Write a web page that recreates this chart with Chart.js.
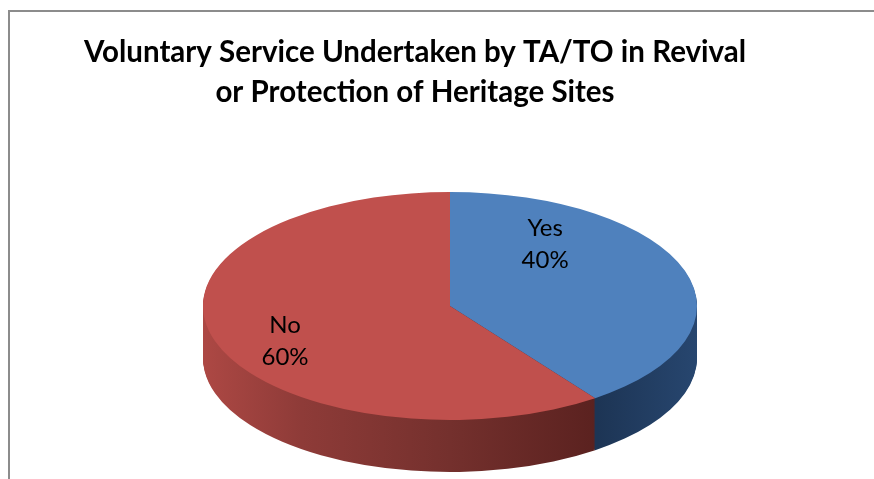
<!DOCTYPE html>
<html>
<head>
<meta charset="utf-8">
<title>Voluntary Service Undertaken by TA/TO</title>
<script src="https://cdn.jsdelivr.net/npm/chart.js@4.4.1/dist/chart.umd.min.js"></script>
<style>
  html, body { margin: 0; padding: 0; background: #fff; overflow: hidden; }
  #wrap { width: 874px; height: 479px; }
</style>
</head>
<body>
<div id="wrap"><canvas id="pie" width="874" height="479"></canvas></div>
<script>
// survey answers
const answers = ['Yes', 'No'];
const shares = [40, 60];
const titleLines = ['Voluntary Service Undertaken by TA/TO in Revival', 'or Protection of Heritage Sites'];

// top face colours, then the darker rim colours (left -> right shading)
const faceColors = ['#4f81bd', '#c0504d'];
const rimStops = [
  [[0.80, '#1d3555'], [1, '#27466f']],
  [[0, '#ad4844'], [0.2, '#8e3b38'], [0.5, '#74302d'], [0.85, '#561f1d']]
];

// how the flat pie is laid onto the page: tilted ellipse with a rim
const tilt = { cx: 450, cy: 306, rx: 247, ry: 114, depth: 52 };
// label anchors, as fractions of the ellipse radii from its centre
const labelSpots = [[0.385, -0.54], [-0.668, 0.31]];

function placeArc(ctx, arc, dy) {
  const R = arc.outerRadius;
  ctx.translate(tilt.cx, tilt.cy + dy);
  ctx.scale(tilt.rx / R, tilt.ry / R);
  ctx.translate(-arc.x, -arc.y);
}

function paintArc(ctx, arc, fill) {
  const shadow = Object.create(arc);
  shadow.options = Object.assign({}, arc.options, { backgroundColor: fill, borderWidth: 0 });
  arc.draw.call(shadow, ctx);
}

const tiltedPie = {
  id: 'tiltedPie',
  beforeDraw(chart) {
    const ctx = chart.ctx;
    ctx.save();
    ctx.fillStyle = '#ffffff';
    ctx.fillRect(0, 0, chart.width, chart.height);
    // frame of the chart box
    ctx.fillStyle = '#8c8c8c';
    ctx.fillRect(8, 10, chart.width - 8, 2);
    ctx.fillRect(8, 10, 2, chart.height - 10);
    ctx.restore();
  },
  beforeDatasetsDraw(chart) {
    const ctx = chart.ctx;
    const arcs = chart.getDatasetMeta(0).data;

    // rim: stack of shifted copies, bottom first
    for (let d = tilt.depth; d >= 1; d--) {
      arcs.forEach(function(arc, i) {
        ctx.save();
        placeArc(ctx, arc, d);
        const R = arc.outerRadius;
        const g = ctx.createLinearGradient(arc.x - R, 0, arc.x + R, 0);
        rimStops[i].forEach(function(s) { g.addColorStop(s[0], s[1]); });
        paintArc(ctx, arc, g);
        ctx.restore();
      });
    }

    // top face
    arcs.forEach(function(arc, i) {
      ctx.save();
      placeArc(ctx, arc, 0);
      paintArc(ctx, arc, faceColors[i]);
      ctx.restore();
    });

    // labels: category and percentage
    ctx.save();
    ctx.fillStyle = '#000000';
    ctx.font = '24px Lato, "Open Sans", sans-serif';
    ctx.textAlign = 'center';
    ctx.textBaseline = 'middle';
    arcs.forEach(function(arc, i) {
      const x = tilt.cx + labelSpots[i][0] * tilt.rx;
      const y = tilt.cy + labelSpots[i][1] * tilt.ry;
      ctx.fillText(answers[i], x, y - 16);
      ctx.fillText(shares[i] + '%', x, y + 16);
    });
    ctx.restore();
    return false;
  }
};

new Chart(document.getElementById('pie'), {
  type: 'pie',
  data: {
    labels: answers,
    datasets: [{
      data: shares,
      backgroundColor: faceColors,
      borderWidth: 0,
      clip: false
    }]
  },
  options: {
    responsive: false,
    animation: false,
    events: [],
    layout: { padding: { left: 0, right: 44, top: 0, bottom: 0 } },
    plugins: {
      legend: { display: false },
      tooltip: { enabled: false },
      title: {
        display: true,
        text: titleLines,
        color: '#000000',
        font: { family: 'Lato, "Open Sans", sans-serif', size: 29.5, weight: 'bold', lineHeight: 1.36 },
        padding: { top: 32, bottom: 10 }
      }
    }
  },
  plugins: [tiltedPie]
});
</script>
</body>
</html>
